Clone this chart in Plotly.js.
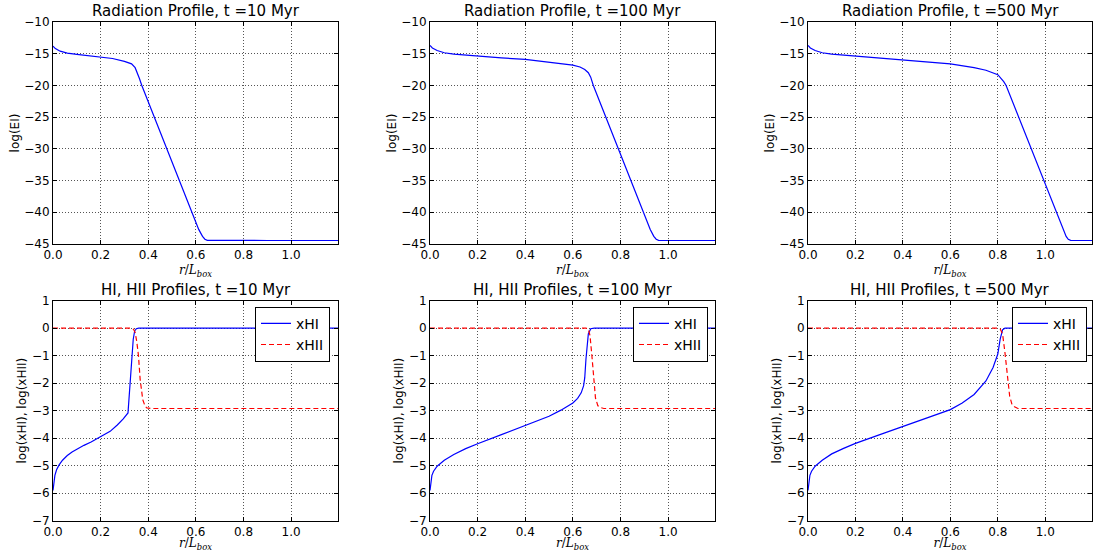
<!DOCTYPE html>
<html>
<head>
<meta charset="utf-8">
<script src="https://cdn.plot.ly/plotly-3.0.1.min.js"></script>
<style>html,body{margin:0;padding:0;background:#fff;}#chart{width:1094px;height:552px;}</style>
</head>
<body>
<div id="chart"></div>
<script>
// ---------- data ----------
const times = ["10", "100", "500"];
const xTickVals = [0, 0.2, 0.4, 0.6, 0.8, 1.0];
const xTickText = ["0.0", "0.2", "0.4", "0.6", "0.8", "1.0"];

// Radiation profiles log(EI)
const rE10 = [0, 0.01, 0.03, 0.06, 0.1, 0.15, 0.2, 0.25, 0.3, 0.33, 0.345, 0.355, 0.363, 0.373, 0.4255, 0.478, 0.53, 0.583, 0.612, 0.628, 0.638, 0.648, 0.7, 0.8, 0.9, 1.0, 1.1, 1.197];
const logE10 = [-13.8, -14.2, -14.6, -14.9, -15.1, -15.3, -15.5, -15.75, -16.2, -16.6, -17.2, -18.0, -18.9, -20, -25, -30, -35, -40, -42.7, -43.8, -44.25, -44.42, -44.45, -44.45, -44.45, -44.45, -44.45, -44.45];

const rE100 = [0, 0.01, 0.03, 0.06, 0.1, 0.2, 0.3, 0.4, 0.5, 0.6, 0.63, 0.65, 0.665, 0.675, 0.686, 0.739, 0.791, 0.844, 0.896, 0.925, 0.94, 0.95, 0.96, 1.0, 1.1, 1.197];
const logE100 = [-13.7, -14.1, -14.5, -14.85, -15.05, -15.4, -15.65, -15.9, -16.3, -16.8, -17.1, -17.5, -18.0, -18.7, -20, -25, -30, -35, -40, -42.7, -43.8, -44.25, -44.42, -44.45, -44.45, -44.45];

const rE500 = [0, 0.01, 0.03, 0.06, 0.1, 0.2, 0.3, 0.4, 0.5, 0.6, 0.7, 0.75, 0.8, 0.815, 0.825, 0.835, 0.888, 0.94, 0.993, 1.045, 1.073, 1.088, 1.097, 1.107, 1.15, 1.197];
const logE500 = [-13.7, -14.1, -14.5, -14.85, -15.05, -15.35, -15.65, -15.9, -16.25, -16.6, -17.2, -17.6, -18.3, -18.9, -19.4, -20, -25, -30, -35, -40, -42.7, -43.8, -44.25, -44.42, -44.45, -44.45];

// HI profiles log(xHI)
const rHI10 = [0, 0.003, 0.008, 0.015, 0.025, 0.04, 0.06, 0.08, 0.1, 0.13, 0.16, 0.2, 0.24, 0.27, 0.295, 0.315, 0.322, 0.33, 0.337, 0.343, 0.35, 0.36, 0.5, 0.8, 1.0, 1.197];
const xHI10 = [-5.9, -5.6, -5.35, -5.15, -4.98, -4.8, -4.63, -4.5, -4.4, -4.26, -4.14, -3.95, -3.75, -3.52, -3.3, -3.08, -2.3, -1.25, -0.4, -0.1, -0.02, 0, 0, 0, 0, 0];
const rHII10 = [0, 0.2, 0.33, 0.338, 0.345, 0.352, 0.359, 0.366, 0.372, 0.377, 0.387, 0.394, 0.41, 0.6, 0.8, 1.0, 1.197];
const xHII10 = [0, 0, 0, -0.04, -0.15, -0.5, -1.0, -1.86, -2.3, -2.6, -2.84, -2.9, -2.92, -2.92, -2.92, -2.92, -2.92];

const rHI100 = [0, 0.003, 0.008, 0.015, 0.03, 0.06, 0.1, 0.15, 0.2, 0.3, 0.4, 0.45, 0.5, 0.55, 0.6, 0.62, 0.635, 0.645, 0.65, 0.655, 0.66, 0.665, 0.675, 0.69, 0.8, 1.0, 1.197];
const xHI100 = [-5.9, -5.6, -5.35, -5.2, -5.02, -4.8, -4.59, -4.38, -4.2, -3.87, -3.54, -3.38, -3.2, -2.98, -2.72, -2.55, -2.35, -2.1, -1.8, -1.13, -0.64, -0.21, -0.02, 0, 0, 0, 0];
const rHII100 = [0, 0.3, 0.655, 0.665, 0.672, 0.68, 0.687, 0.695, 0.705, 0.715, 0.73, 0.9, 1.197];
const xHII100 = [0, 0, 0, -0.03, -0.27, -1.0, -1.86, -2.54, -2.82, -2.88, -2.92, -2.92, -2.92];

const rHI500 = [0, 0.003, 0.008, 0.015, 0.03, 0.06, 0.1, 0.15, 0.2, 0.3, 0.4, 0.5, 0.6, 0.65, 0.7, 0.75, 0.78, 0.8, 0.81, 0.82, 0.83, 0.9, 1.0, 1.197];
const xHI500 = [-5.9, -5.6, -5.35, -5.2, -5.02, -4.8, -4.57, -4.37, -4.19, -3.88, -3.57, -3.27, -2.96, -2.72, -2.41, -1.92, -1.43, -0.94, -0.4, -0.06, 0, 0, 0, 0];
const rHII500 = [0, 0.4, 0.8, 0.81, 0.82, 0.83, 0.84, 0.85, 0.86, 0.87, 0.885, 1.0, 1.197];
const xHII500 = [0, 0, 0, -0.03, -0.2, -0.88, -1.74, -2.47, -2.78, -2.86, -2.92, -2.92, -2.92];

// ---------- layout helpers ----------
const W = 1094, H = 552;
const colPx = [[53, 338], [430, 715], [808, 1092]];
const topRowPx = [22, 244];
const botRowPx = [300.7, 520.7];
const legendRightPx = [330, 708, 1087];
const legendTopPx = 306.7;

const blue = "#0000ff", red = "#ff0000";
const FONT = "DejaVu Sans, Verdana, sans-serif";

const eR = [rE10, rE100, rE500];
const eY = [logE10, logE100, logE500];
const hiR = [rHI10, rHI100, rHI500];
const hiY = [xHI10, xHI100, xHI500];
const hiiR = [rHII10, rHII100, rHII500];
const hiiY = [xHII10, xHII100, xHII500];

const traces = [];
const layout = {
  width: W, height: H,
  margin: {l: 0, r: 0, t: 0, b: 0},
  paper_bgcolor: "#fff", plot_bgcolor: "#fff",
  font: {family: FONT, size: 12, color: "#000"},
  showlegend: true,
  annotations: []
};

function axisCommon() {
  return {
    showline: true, mirror: "ticks", linecolor: "#000", linewidth: 1,
    ticks: "inside", ticklen: 4, tickwidth: 1, tickcolor: "#000",
    showgrid: true, gridcolor: "#555", gridwidth: 1, griddash: "1px,2px",
    zeroline: false, tickfont: {family: FONT, size: 12, color: "#000"}
  };
}

for (let c = 0; c < 3; c++) {
  const xd = [colPx[c][0] / W, colPx[c][1] / W];
  const ydTop = [1 - topRowPx[1] / H, 1 - topRowPx[0] / H];
  const ydBot = [1 - botRowPx[1] / H, 1 - botRowPx[0] / H];
  const iTop = c + 1, iBot = c + 4;
  const xa = i => (i === 1 ? "xaxis" : "xaxis" + i);
  const ya = i => (i === 1 ? "yaxis" : "yaxis" + i);
  const xr = i => (i === 1 ? "x" : "x" + i);
  const yr = i => (i === 1 ? "y" : "y" + i);

  const xTitle = {text: "<i>r</i>/<i>L</i><sub><i>box</i></sub>", font: {family: "DejaVu Serif, serif", size: 12}, standoff: 4};

  layout[xa(iTop)] = Object.assign(axisCommon(), {domain: xd, anchor: yr(iTop), range: [0, 1.197], tickvals: xTickVals, ticktext: xTickText, title: xTitle});
  layout[ya(iTop)] = Object.assign(axisCommon(), {domain: ydTop, anchor: xr(iTop), range: [-45, -10], dtick: 5, tick0: -45, title: {text: "log(EI)", font: {family: FONT, size: 12}, standoff: 2}});
  layout[xa(iBot)] = Object.assign(axisCommon(), {domain: xd, anchor: yr(iBot), range: [0, 1.197], tickvals: xTickVals, ticktext: xTickText, title: xTitle});
  layout[ya(iBot)] = Object.assign(axisCommon(), {domain: ydBot, anchor: xr(iBot), range: [-7, 1], dtick: 1, tick0: -7, title: {text: "log(xHI), log(xHII)", font: {family: FONT, size: 12}, standoff: 2}});

  traces.push({x: eR[c], y: eY[c], xaxis: xr(iTop), yaxis: yr(iTop), type: "scatter", mode: "lines",
               line: {color: blue, width: 1.2}, showlegend: false, hoverinfo: "skip"});

  const lg = c === 0 ? "legend" : "legend" + (c + 1);
  traces.push({x: hiR[c], y: hiY[c], xaxis: xr(iBot), yaxis: yr(iBot), type: "scatter", mode: "lines",
               name: "xHI", legend: lg, line: {color: blue, width: 1.2}});
  traces.push({x: hiiR[c], y: hiiY[c], xaxis: xr(iBot), yaxis: yr(iBot), type: "scatter", mode: "lines",
               name: "xHII", legend: lg, line: {color: red, width: 1.2, dash: "5px,3px"}});

  layout[lg] = {
    x: legendRightPx[c] / W, xanchor: "right",
    y: 1 - legendTopPx / H, yanchor: "top",
    bgcolor: "#fff", bordercolor: "#000", borderwidth: 1,
    font: {family: FONT, size: 14, color: "#000"},
    tracegroupgap: 0, itemwidth: 30
  };

  const cx = (colPx[c][0] + colPx[c][1]) / 2 / W;
  layout.annotations.push({text: "Radiation Profile, t =" + times[c] + " Myr", x: cx, y: 1 - topRowPx[0] / H, xref: "paper", yref: "paper",
    xanchor: "center", yanchor: "bottom", yshift: 0, showarrow: false, font: {family: FONT, size: 15, color: "#000"}});
  layout.annotations.push({text: "HI, HII Profiles, t =" + times[c] + " Myr", x: cx, y: 1 - botRowPx[0] / H, xref: "paper", yref: "paper",
    xanchor: "center", yanchor: "bottom", yshift: 0, showarrow: false, font: {family: FONT, size: 15, color: "#000"}});
}

Plotly.newPlot("chart", traces, layout, {displayModeBar: false, staticPlot: true});
</script>
</body>
</html>
